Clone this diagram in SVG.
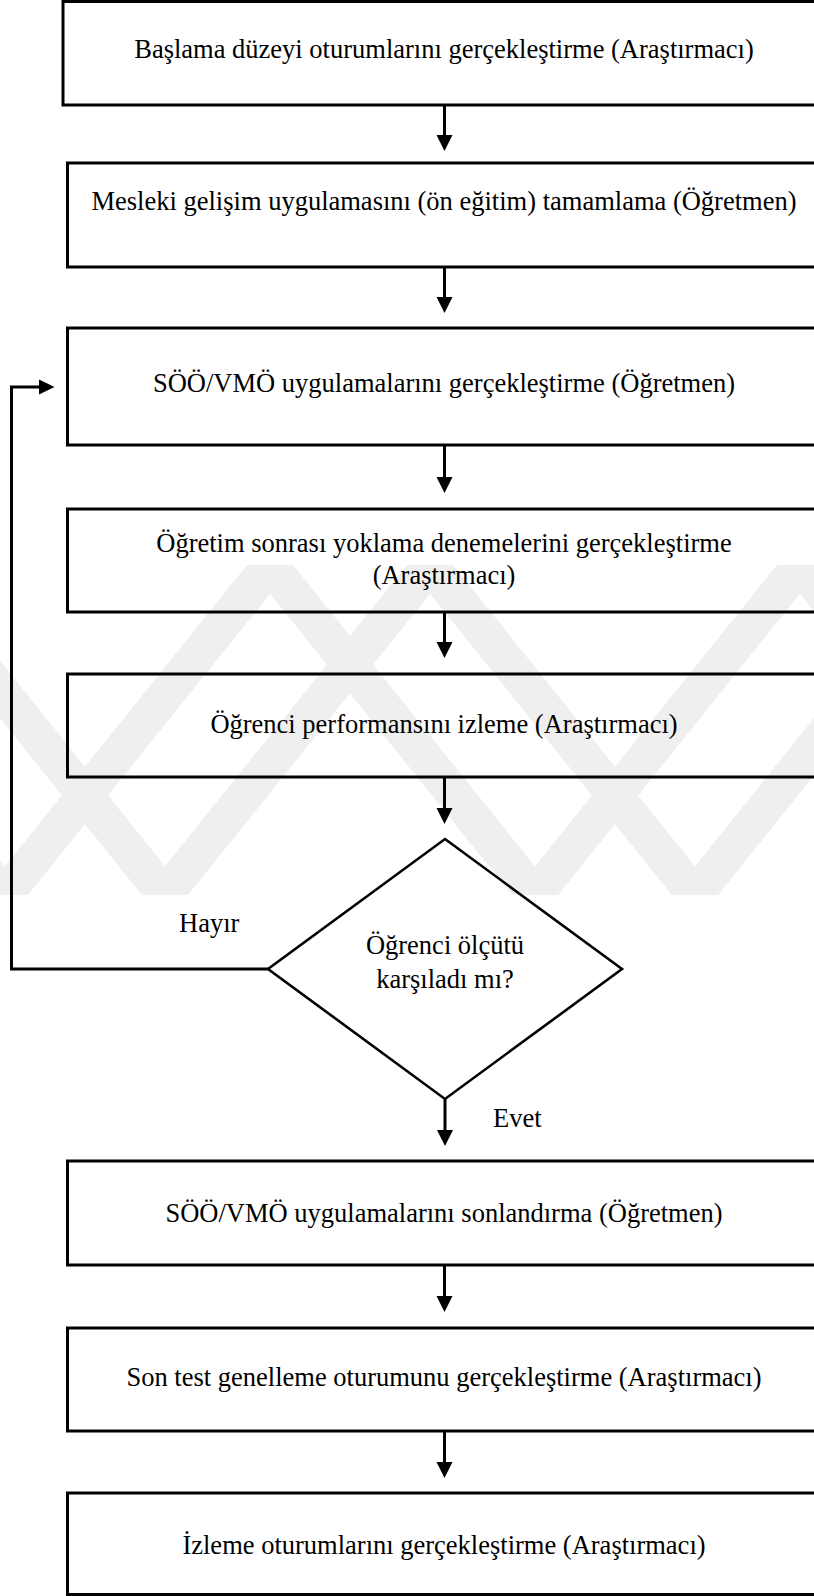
<svg xmlns="http://www.w3.org/2000/svg" width="814" height="1596" viewBox="0 0 814 1596">
<style>
.box{fill:none;stroke:#000;stroke-width:3}
.dia{fill:none;stroke:#000;stroke-width:2.6}
.ln{fill:none;stroke:#000;stroke-width:3}
.hd{fill:#000;stroke:none}
.t{font-family:"Liberation Serif","Times New Roman",serif;font-size:26.5px;fill:#000}
.c{text-anchor:middle}
.wm{fill:none;stroke:#efefef;stroke-width:36;stroke-linejoin:miter}
</style>
<defs>
<clipPath id="wmclip"><rect x="0" y="565" width="814" height="330"/></clipPath>
</defs>
<rect width="814" height="1596" fill="#fff"/>
<g id="watermark" clip-path="url(#wmclip)">
<polyline class="wm" points="-260,565 5,895 270,565 535,895 800,565 1065,895"/>
<polyline class="wm" points="-100,565 165,895 430,565 695,895 960,565"/>
</g>
<g id="n1"><rect class="box" x="63" y="1.5" width="790" height="103.5"/><text class="t c" x="444" y="58">Başlama düzeyi oturumlarını gerçekleştirme (Araştırmacı)</text></g>
<g id="n2"><rect class="box" x="67.5" y="163" width="790" height="104"/><text class="t c" x="444" y="210">Mesleki gelişim uygulamasını (ön eğitim) tamamlama (Öğretmen)</text></g>
<g id="n3"><rect class="box" x="67.5" y="328" width="790" height="117"/><text class="t c" x="444" y="392">SÖÖ/VMÖ uygulamalarını gerçekleştirme (Öğretmen)</text></g>
<g id="n4"><rect class="box" x="67.5" y="509" width="790" height="103"/><text class="t c" x="444" y="552">Öğretim sonrası yoklama denemelerini gerçekleştirme</text><text class="t c" x="444" y="584">(Araştırmacı)</text></g>
<g id="n5"><rect class="box" x="67.5" y="674" width="790" height="103"/><text class="t c" x="444" y="733">Öğrenci performansını izleme (Araştırmacı)</text></g>
<g id="d1"><polygon class="dia" points="445,839 622,969 445,1099 268,969"/><text class="t c" x="445" y="954">Öğrenci ölçütü</text><text class="t c" x="445" y="988">karşıladı mı?</text></g>
<g id="n6"><rect class="box" x="67.5" y="1161" width="790" height="104"/><text class="t c" x="444" y="1222">SÖÖ/VMÖ uygulamalarını sonlandırma (Öğretmen)</text></g>
<g id="n7"><rect class="box" x="67.5" y="1328" width="790" height="103"/><text class="t c" x="444" y="1386">Son test genelleme oturumunu gerçekleştirme (Araştırmacı)</text></g>
<g id="n8"><rect class="box" x="67.5" y="1493" width="790" height="101.5"/><text class="t c" x="444" y="1554">İzleme oturumlarını gerçekleştirme (Araştırmacı)</text></g>
<g id="connectors">
<line class="ln" x1="444.5" y1="105" x2="444.5" y2="137"/><polygon class="hd" points="436.5,135 452.5,135 444.5,151"/>
<line class="ln" x1="444.5" y1="267" x2="444.5" y2="299"/><polygon class="hd" points="436.5,297 452.5,297 444.5,313"/>
<line class="ln" x1="444.5" y1="445" x2="444.5" y2="479"/><polygon class="hd" points="436.5,477 452.5,477 444.5,493"/>
<line class="ln" x1="444.5" y1="612" x2="444.5" y2="644"/><polygon class="hd" points="436.5,642 452.5,642 444.5,658"/>
<line class="ln" x1="444.5" y1="777" x2="444.5" y2="810"/><polygon class="hd" points="436.5,808 452.5,808 444.5,824"/>
<line class="ln" x1="445" y1="1099" x2="445" y2="1132"/><polygon class="hd" points="437,1130 453,1130 445,1146"/>
<line class="ln" x1="444.5" y1="1265" x2="444.5" y2="1298"/><polygon class="hd" points="436.5,1296 452.5,1296 444.5,1312"/>
<line class="ln" x1="444.5" y1="1431" x2="444.5" y2="1464"/><polygon class="hd" points="436.5,1462 452.5,1462 444.5,1478"/>
<polyline class="ln" points="268,969 11.5,969 11.5,387 41,387"/><polygon class="hd" points="39,379.5 39,394.5 54.5,387"/>
<text class="t" x="179" y="932">Hayır</text>
<text class="t" x="493" y="1127">Evet</text>
</g>
</svg>
